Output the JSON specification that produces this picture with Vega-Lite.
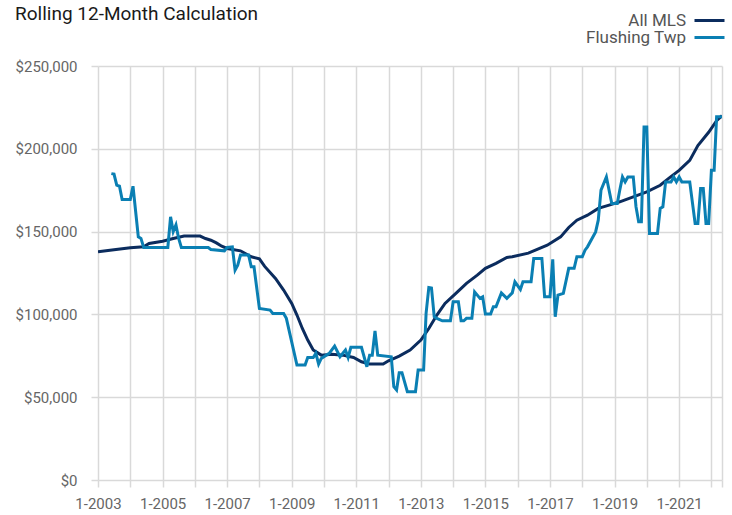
{
  "$schema": "https://vega.github.io/schema/vega-lite/v6.json",
  "autosize": {"type": "none"},
  "width": 624,
  "height": 414,
  "padding": {"left": 98, "top": 66, "right": 10, "bottom": 35},
  "background": "white",
  "title": {
    "text": "Rolling 12-Month Calculation",
    "anchor": "start",
    "frame": "bounds",
    "font": "Roboto, sans-serif",
    "fontSize": 19,
    "fontWeight": "normal",
    "color": "#1a1a1a",
    "baseline": "alphabetic",
    "offset": -27
  },
  "config": {
    "view": {"stroke": null},
    "font": "Roboto, sans-serif"
  },
  "data": {
    "values": [
      {"date": "2003-01-01", "series": "All MLS", "price": 137800},
      {"date": "2003-07-01", "series": "All MLS", "price": 139000},
      {"date": "2004-01-01", "series": "All MLS", "price": 140200},
      {"date": "2004-06-01", "series": "All MLS", "price": 140800},
      {"date": "2004-08-01", "series": "All MLS", "price": 142800},
      {"date": "2005-01-01", "series": "All MLS", "price": 144200},
      {"date": "2005-05-01", "series": "All MLS", "price": 145800},
      {"date": "2005-09-01", "series": "All MLS", "price": 147300},
      {"date": "2006-03-01", "series": "All MLS", "price": 147300},
      {"date": "2006-05-01", "series": "All MLS", "price": 145800},
      {"date": "2006-07-01", "series": "All MLS", "price": 144800},
      {"date": "2006-09-01", "series": "All MLS", "price": 143200},
      {"date": "2006-11-01", "series": "All MLS", "price": 141200},
      {"date": "2007-01-01", "series": "All MLS", "price": 139800},
      {"date": "2007-06-01", "series": "All MLS", "price": 138400},
      {"date": "2007-10-01", "series": "All MLS", "price": 134800},
      {"date": "2008-01-01", "series": "All MLS", "price": 133500},
      {"date": "2008-03-01", "series": "All MLS", "price": 129000},
      {"date": "2008-07-01", "series": "All MLS", "price": 121700},
      {"date": "2008-10-01", "series": "All MLS", "price": 114700},
      {"date": "2009-01-01", "series": "All MLS", "price": 106600},
      {"date": "2009-03-01", "series": "All MLS", "price": 99600},
      {"date": "2009-05-01", "series": "All MLS", "price": 91500},
      {"date": "2009-07-01", "series": "All MLS", "price": 84500},
      {"date": "2009-09-01", "series": "All MLS", "price": 78500},
      {"date": "2009-12-01", "series": "All MLS", "price": 75400},
      {"date": "2010-04-01", "series": "All MLS", "price": 75900},
      {"date": "2010-08-01", "series": "All MLS", "price": 75400},
      {"date": "2010-12-01", "series": "All MLS", "price": 74000},
      {"date": "2011-03-01", "series": "All MLS", "price": 71400},
      {"date": "2011-06-01", "series": "All MLS", "price": 70000},
      {"date": "2011-11-01", "series": "All MLS", "price": 70000},
      {"date": "2012-01-01", "series": "All MLS", "price": 72000},
      {"date": "2012-05-01", "series": "All MLS", "price": 74800},
      {"date": "2012-09-01", "series": "All MLS", "price": 78500},
      {"date": "2013-01-01", "series": "All MLS", "price": 84500},
      {"date": "2013-04-01", "series": "All MLS", "price": 91500},
      {"date": "2013-07-01", "series": "All MLS", "price": 99600},
      {"date": "2013-10-01", "series": "All MLS", "price": 106600},
      {"date": "2014-02-01", "series": "All MLS", "price": 112700},
      {"date": "2014-06-01", "series": "All MLS", "price": 118700},
      {"date": "2014-10-01", "series": "All MLS", "price": 123700},
      {"date": "2015-01-01", "series": "All MLS", "price": 127800},
      {"date": "2015-05-01", "series": "All MLS", "price": 130800},
      {"date": "2015-09-01", "series": "All MLS", "price": 134400},
      {"date": "2015-11-01", "series": "All MLS", "price": 134800},
      {"date": "2016-05-01", "series": "All MLS", "price": 137000},
      {"date": "2016-12-01", "series": "All MLS", "price": 141800},
      {"date": "2017-05-01", "series": "All MLS", "price": 146800},
      {"date": "2017-08-01", "series": "All MLS", "price": 152500},
      {"date": "2017-11-01", "series": "All MLS", "price": 156900},
      {"date": "2018-03-01", "series": "All MLS", "price": 159900},
      {"date": "2018-07-01", "series": "All MLS", "price": 164000},
      {"date": "2018-11-01", "series": "All MLS", "price": 166000},
      {"date": "2019-03-01", "series": "All MLS", "price": 168000},
      {"date": "2019-08-01", "series": "All MLS", "price": 171000},
      {"date": "2020-01-01", "series": "All MLS", "price": 174000},
      {"date": "2020-06-01", "series": "All MLS", "price": 178000},
      {"date": "2020-09-01", "series": "All MLS", "price": 182000},
      {"date": "2021-01-01", "series": "All MLS", "price": 187000},
      {"date": "2021-05-01", "series": "All MLS", "price": 193000},
      {"date": "2021-08-01", "series": "All MLS", "price": 202000},
      {"date": "2021-12-01", "series": "All MLS", "price": 210000},
      {"date": "2022-03-01", "series": "All MLS", "price": 217000},
      {"date": "2022-05-01", "series": "All MLS", "price": 220000},

      {"date": "2003-06-01", "series": "Flushing Twp", "price": 185000},
      {"date": "2003-07-01", "series": "Flushing Twp", "price": 184700},
      {"date": "2003-08-01", "series": "Flushing Twp", "price": 178000},
      {"date": "2003-09-01", "series": "Flushing Twp", "price": 177400},
      {"date": "2003-10-01", "series": "Flushing Twp", "price": 169400},
      {"date": "2004-01-01", "series": "Flushing Twp", "price": 169400},
      {"date": "2004-02-01", "series": "Flushing Twp", "price": 177400},
      {"date": "2004-04-01", "series": "Flushing Twp", "price": 146800},
      {"date": "2004-05-01", "series": "Flushing Twp", "price": 145900},
      {"date": "2004-06-01", "series": "Flushing Twp", "price": 140400},
      {"date": "2005-03-01", "series": "Flushing Twp", "price": 140400},
      {"date": "2005-04-01", "series": "Flushing Twp", "price": 158900},
      {"date": "2005-05-01", "series": "Flushing Twp", "price": 150000},
      {"date": "2005-06-01", "series": "Flushing Twp", "price": 154000},
      {"date": "2005-07-01", "series": "Flushing Twp", "price": 146000},
      {"date": "2005-08-01", "series": "Flushing Twp", "price": 140400},
      {"date": "2006-06-01", "series": "Flushing Twp", "price": 140400},
      {"date": "2006-07-01", "series": "Flushing Twp", "price": 139200},
      {"date": "2006-12-01", "series": "Flushing Twp", "price": 138400},
      {"date": "2007-01-01", "series": "Flushing Twp", "price": 140400},
      {"date": "2007-03-01", "series": "Flushing Twp", "price": 140800},
      {"date": "2007-04-01", "series": "Flushing Twp", "price": 126700},
      {"date": "2007-05-01", "series": "Flushing Twp", "price": 129700},
      {"date": "2007-06-01", "series": "Flushing Twp", "price": 135800},
      {"date": "2007-09-01", "series": "Flushing Twp", "price": 135800},
      {"date": "2007-10-01", "series": "Flushing Twp", "price": 128700},
      {"date": "2007-11-01", "series": "Flushing Twp", "price": 128700},
      {"date": "2008-01-01", "series": "Flushing Twp", "price": 103600},
      {"date": "2008-05-01", "series": "Flushing Twp", "price": 102600},
      {"date": "2008-06-01", "series": "Flushing Twp", "price": 100600},
      {"date": "2008-10-01", "series": "Flushing Twp", "price": 100600},
      {"date": "2008-11-01", "series": "Flushing Twp", "price": 97600},
      {"date": "2009-03-01", "series": "Flushing Twp", "price": 69400},
      {"date": "2009-06-01", "series": "Flushing Twp", "price": 69400},
      {"date": "2009-07-01", "series": "Flushing Twp", "price": 74000},
      {"date": "2009-09-01", "series": "Flushing Twp", "price": 74000},
      {"date": "2009-10-01", "series": "Flushing Twp", "price": 76500},
      {"date": "2009-11-01", "series": "Flushing Twp", "price": 70000},
      {"date": "2009-12-01", "series": "Flushing Twp", "price": 73400},
      {"date": "2010-03-01", "series": "Flushing Twp", "price": 76500},
      {"date": "2010-05-01", "series": "Flushing Twp", "price": 80900},
      {"date": "2010-07-01", "series": "Flushing Twp", "price": 74400},
      {"date": "2010-09-01", "series": "Flushing Twp", "price": 78500},
      {"date": "2010-10-01", "series": "Flushing Twp", "price": 74000},
      {"date": "2010-11-01", "series": "Flushing Twp", "price": 80100},
      {"date": "2011-03-01", "series": "Flushing Twp", "price": 80100},
      {"date": "2011-05-01", "series": "Flushing Twp", "price": 68400},
      {"date": "2011-06-01", "series": "Flushing Twp", "price": 75400},
      {"date": "2011-07-01", "series": "Flushing Twp", "price": 75400},
      {"date": "2011-08-01", "series": "Flushing Twp", "price": 90100},
      {"date": "2011-09-01", "series": "Flushing Twp", "price": 75400},
      {"date": "2012-02-01", "series": "Flushing Twp", "price": 74400},
      {"date": "2012-03-01", "series": "Flushing Twp", "price": 56300},
      {"date": "2012-04-01", "series": "Flushing Twp", "price": 54300},
      {"date": "2012-05-01", "series": "Flushing Twp", "price": 64800},
      {"date": "2012-06-01", "series": "Flushing Twp", "price": 64800},
      {"date": "2012-08-01", "series": "Flushing Twp", "price": 53300},
      {"date": "2012-11-01", "series": "Flushing Twp", "price": 53300},
      {"date": "2012-12-01", "series": "Flushing Twp", "price": 66400},
      {"date": "2013-02-01", "series": "Flushing Twp", "price": 66400},
      {"date": "2013-03-01", "series": "Flushing Twp", "price": 100600},
      {"date": "2013-04-01", "series": "Flushing Twp", "price": 116300},
      {"date": "2013-05-01", "series": "Flushing Twp", "price": 116000},
      {"date": "2013-06-01", "series": "Flushing Twp", "price": 98600},
      {"date": "2013-07-01", "series": "Flushing Twp", "price": 97600},
      {"date": "2013-09-01", "series": "Flushing Twp", "price": 96100},
      {"date": "2013-12-01", "series": "Flushing Twp", "price": 96100},
      {"date": "2014-01-01", "series": "Flushing Twp", "price": 107600},
      {"date": "2014-03-01", "series": "Flushing Twp", "price": 107600},
      {"date": "2014-04-01", "series": "Flushing Twp", "price": 96100},
      {"date": "2014-05-01", "series": "Flushing Twp", "price": 96100},
      {"date": "2014-06-01", "series": "Flushing Twp", "price": 97600},
      {"date": "2014-08-01", "series": "Flushing Twp", "price": 97600},
      {"date": "2014-09-01", "series": "Flushing Twp", "price": 113600},
      {"date": "2014-11-01", "series": "Flushing Twp", "price": 109700},
      {"date": "2014-12-01", "series": "Flushing Twp", "price": 110600},
      {"date": "2015-01-01", "series": "Flushing Twp", "price": 100200},
      {"date": "2015-03-01", "series": "Flushing Twp", "price": 100200},
      {"date": "2015-04-01", "series": "Flushing Twp", "price": 104600},
      {"date": "2015-05-01", "series": "Flushing Twp", "price": 104600},
      {"date": "2015-07-01", "series": "Flushing Twp", "price": 113000},
      {"date": "2015-09-01", "series": "Flushing Twp", "price": 109700},
      {"date": "2015-11-01", "series": "Flushing Twp", "price": 113000},
      {"date": "2015-12-01", "series": "Flushing Twp", "price": 119700},
      {"date": "2016-02-01", "series": "Flushing Twp", "price": 115100},
      {"date": "2016-03-01", "series": "Flushing Twp", "price": 119700},
      {"date": "2016-06-01", "series": "Flushing Twp", "price": 119700},
      {"date": "2016-07-01", "series": "Flushing Twp", "price": 133800},
      {"date": "2016-10-01", "series": "Flushing Twp", "price": 133800},
      {"date": "2016-11-01", "series": "Flushing Twp", "price": 110600},
      {"date": "2017-01-01", "series": "Flushing Twp", "price": 110600},
      {"date": "2017-02-01", "series": "Flushing Twp", "price": 133200},
      {"date": "2017-03-01", "series": "Flushing Twp", "price": 98600},
      {"date": "2017-04-01", "series": "Flushing Twp", "price": 111600},
      {"date": "2017-06-01", "series": "Flushing Twp", "price": 112700},
      {"date": "2017-08-01", "series": "Flushing Twp", "price": 127800},
      {"date": "2017-10-01", "series": "Flushing Twp", "price": 127800},
      {"date": "2017-11-01", "series": "Flushing Twp", "price": 134800},
      {"date": "2018-01-01", "series": "Flushing Twp", "price": 134800},
      {"date": "2018-02-01", "series": "Flushing Twp", "price": 138800},
      {"date": "2018-03-01", "series": "Flushing Twp", "price": 140800},
      {"date": "2018-06-01", "series": "Flushing Twp", "price": 149800},
      {"date": "2018-07-01", "series": "Flushing Twp", "price": 156900},
      {"date": "2018-08-01", "series": "Flushing Twp", "price": 175000},
      {"date": "2018-10-01", "series": "Flushing Twp", "price": 183000},
      {"date": "2018-12-01", "series": "Flushing Twp", "price": 167000},
      {"date": "2019-02-01", "series": "Flushing Twp", "price": 167000},
      {"date": "2019-03-01", "series": "Flushing Twp", "price": 175000},
      {"date": "2019-04-01", "series": "Flushing Twp", "price": 183000},
      {"date": "2019-05-01", "series": "Flushing Twp", "price": 180000},
      {"date": "2019-06-01", "series": "Flushing Twp", "price": 183000},
      {"date": "2019-08-01", "series": "Flushing Twp", "price": 183000},
      {"date": "2019-09-01", "series": "Flushing Twp", "price": 165000},
      {"date": "2019-10-01", "series": "Flushing Twp", "price": 155900},
      {"date": "2019-11-01", "series": "Flushing Twp", "price": 155900},
      {"date": "2019-12-01", "series": "Flushing Twp", "price": 213200},
      {"date": "2020-01-01", "series": "Flushing Twp", "price": 213200},
      {"date": "2020-02-01", "series": "Flushing Twp", "price": 148900},
      {"date": "2020-05-01", "series": "Flushing Twp", "price": 148900},
      {"date": "2020-06-01", "series": "Flushing Twp", "price": 164000},
      {"date": "2020-07-01", "series": "Flushing Twp", "price": 165000},
      {"date": "2020-08-01", "series": "Flushing Twp", "price": 180000},
      {"date": "2020-10-01", "series": "Flushing Twp", "price": 180000},
      {"date": "2020-11-01", "series": "Flushing Twp", "price": 183000},
      {"date": "2020-12-01", "series": "Flushing Twp", "price": 180000},
      {"date": "2021-01-01", "series": "Flushing Twp", "price": 183000},
      {"date": "2021-02-01", "series": "Flushing Twp", "price": 180000},
      {"date": "2021-05-01", "series": "Flushing Twp", "price": 180000},
      {"date": "2021-07-01", "series": "Flushing Twp", "price": 154900},
      {"date": "2021-08-01", "series": "Flushing Twp", "price": 154900},
      {"date": "2021-09-01", "series": "Flushing Twp", "price": 176000},
      {"date": "2021-10-01", "series": "Flushing Twp", "price": 176000},
      {"date": "2021-11-01", "series": "Flushing Twp", "price": 154900},
      {"date": "2021-12-01", "series": "Flushing Twp", "price": 154900},
      {"date": "2022-01-01", "series": "Flushing Twp", "price": 187000},
      {"date": "2022-02-01", "series": "Flushing Twp", "price": 187000},
      {"date": "2022-03-01", "series": "Flushing Twp", "price": 219300},
      {"date": "2022-05-01", "series": "Flushing Twp", "price": 219300}
    ]
  },
  "mark": {"type": "line", "strokeWidth": 3, "clip": true},
  "encoding": {
    "x": {
      "field": "date",
      "type": "temporal",
      "scale": {
        "type": "utc",
        "domain": [
          {"year": 2003, "month": 1, "date": 1, "utc": true},
          {"year": 2022, "month": 5, "date": 1, "utc": true}
        ]
      },
      "axis": {
        "title": null,
        "domain": false,
        "grid": true,
        "gridColor": "#d9d9d9",
        "gridWidth": 1.5,
        "ticks": true,
        "tickColor": "#d9d9d9",
        "tickWidth": 1.5,
        "tickSize": 7,
        "labelFontSize": 15,
        "labelColor": "#666666",
        "labelPadding": 9,
        "labelOverlap": false,
        "labelFlush": false,
        "values": [
          {"year": 2003, "month": 1, "date": 1, "utc": true},
          {"year": 2004, "month": 1, "date": 1, "utc": true},
          {"year": 2005, "month": 1, "date": 1, "utc": true},
          {"year": 2006, "month": 1, "date": 1, "utc": true},
          {"year": 2007, "month": 1, "date": 1, "utc": true},
          {"year": 2008, "month": 1, "date": 1, "utc": true},
          {"year": 2009, "month": 1, "date": 1, "utc": true},
          {"year": 2010, "month": 1, "date": 1, "utc": true},
          {"year": 2011, "month": 1, "date": 1, "utc": true},
          {"year": 2012, "month": 1, "date": 1, "utc": true},
          {"year": 2013, "month": 1, "date": 1, "utc": true},
          {"year": 2014, "month": 1, "date": 1, "utc": true},
          {"year": 2015, "month": 1, "date": 1, "utc": true},
          {"year": 2016, "month": 1, "date": 1, "utc": true},
          {"year": 2017, "month": 1, "date": 1, "utc": true},
          {"year": 2018, "month": 1, "date": 1, "utc": true},
          {"year": 2019, "month": 1, "date": 1, "utc": true},
          {"year": 2020, "month": 1, "date": 1, "utc": true},
          {"year": 2021, "month": 1, "date": 1, "utc": true},
          {"year": 2022, "month": 1, "date": 1, "utc": true},
          {"year": 2022, "month": 5, "date": 1, "utc": true}
        ],
        "labelExpr": "utcmonth(datum.value) == 0 && utcyear(datum.value) % 2 == 1 ? '1-' + utcyear(datum.value) : ''"
      }
    },
    "y": {
      "field": "price",
      "type": "quantitative",
      "scale": {"domain": [0, 250000], "nice": false, "zero": true},
      "axis": {
        "title": null,
        "domain": false,
        "grid": true,
        "gridColor": "#d9d9d9",
        "gridWidth": 1.5,
        "ticks": true,
        "tickColor": "#d9d9d9",
        "tickWidth": 1.5,
        "tickSize": 7,
        "values": [0, 50000, 100000, 150000, 200000, 250000],
        "format": "$,.0f",
        "labelFontSize": 15,
        "labelColor": "#666666",
        "labelPadding": 14
      }
    },
    "color": {
      "field": "series",
      "type": "nominal",
      "scale": {"domain": ["All MLS", "Flushing Twp"], "range": ["#0b2c5e", "#0a7fb3"]},
      "legend": {
        "title": null,
        "orient": "none",
        "legendX": 603,
        "legendY": -54,
        "padding": 0,
        "rowPadding": -2,
        "symbolType": "M-3,0H3",
        "symbolSize": 100,
        "symbolStrokeWidth": 3,
        "labelAlign": "right",
        "labelOffset": -32,
        "labelFontSize": 17,
        "labelColor": "#555555",
        "labelLimit": 300
      }
    }
  }
}
